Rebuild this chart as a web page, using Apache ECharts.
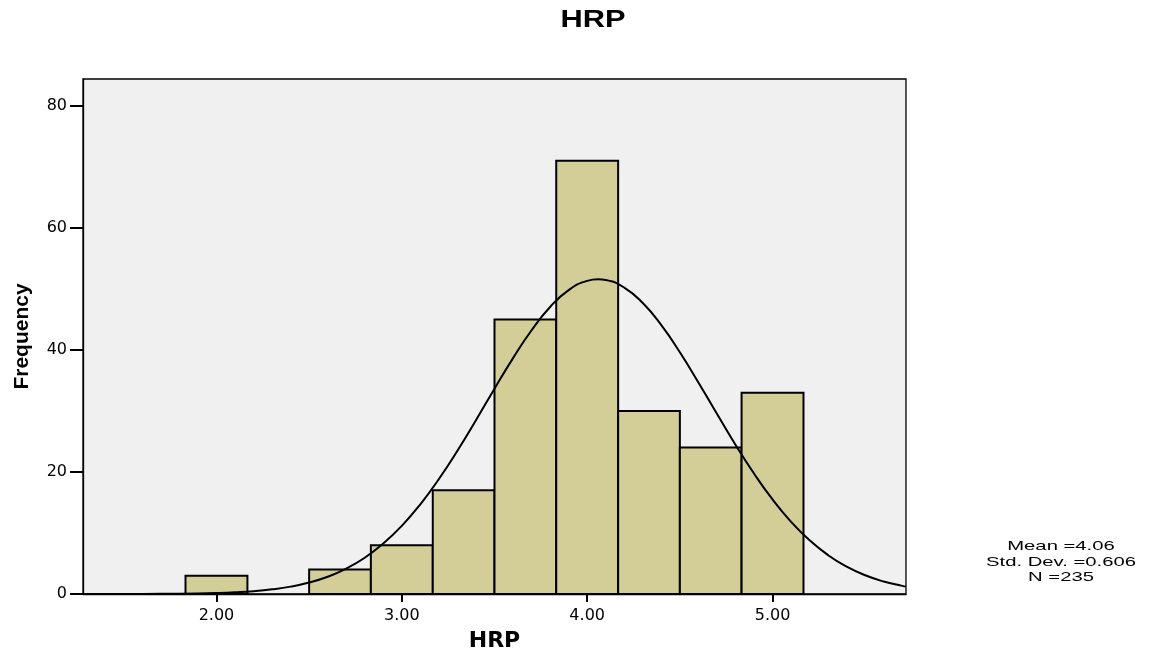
<!DOCTYPE html>
<html><head><meta charset="utf-8">
<script src="https://cdn.jsdelivr.net/npm/echarts@6/dist/echarts.min.js"></script>
<style>html,body{margin:0;padding:0;background:#fff}#c{width:1151px;height:656px}</style>
</head><body><div id="c"></div>
<script>
const title = 'HRP';
const xName = 'HRP';
const yName = 'Frequency';
const binLow  = [1.833, 2.167, 2.500, 2.833, 3.167, 3.500, 3.833, 4.167, 4.500, 4.833];
const binHigh = [2.167, 2.500, 2.833, 3.167, 3.500, 3.833, 4.167, 4.500, 4.833, 5.167];
const counts  = [3, 0, 4, 8, 17, 45, 71, 30, 24, 33];
const curveX = [1.28,1.5,1.7,1.9,2.0,2.1,2.2,2.3,2.4,2.5,2.6,2.7,2.8,2.9,3.0,3.1,3.2,3.3,3.4,3.5,3.6,3.7,3.8,3.9,4.0,4.06,4.1,4.2,4.3,4.4,4.5,4.6,4.7,4.8,4.9,5.0,5.1,5.2,5.3,5.4,5.5,5.6,5.7,5.72];
const curveY = [0.001,0.007,0.026,0.09,0.16,0.28,0.46,0.76,1.21,1.88,2.83,4.16,5.94,8.26,11.17,14.70,18.84,23.49,28.49,33.65,38.66,43.23,47.04,49.80,51.32,51.57,51.46,50.21,47.68,44.06,39.62,34.67,29.53,24.47,19.74,15.49,11.83,8.79,6.36,4.48,3.07,2.04,1.33,1.21];
const xTicks = [2, 3, 4, 5];
const yTicks = [0, 20, 40, 60, 80];
const statsLines = ['Mean =4.06', 'Std. Dev. =0.606', 'N =235'];

const font = '"Liberation Sans", Arial, sans-serif';
const wideFont = '"DejaVu Sans", sans-serif';
const chart = echarts.init(document.getElementById('c'), null, {renderer: 'canvas'});
const barData = binLow.map((lo, i) => [lo, binHigh[i], counts[i]]).filter(d => d[2] > 0);
const curveData = curveX.map((x, i) => [x, curveY[i]]);

chart.setOption({
  animation: false,
  backgroundColor: '#fff',
  grid: {left: 83, right: 245, top: 79, bottom: 62, show: true, containLabel: false,
    outerBoundsMode: 'none',
    backgroundColor: '#f0f0f0', borderColor: '#000', borderWidth: 1.3},
  xAxis: {type: 'value', min: 1.28, max: 5.72,
    name: xName, nameLocation: 'middle', nameGap: 36,
    nameTextStyle: {fontFamily: wideFont, fontWeight: 'bold', fontSize: 22, color: '#000'},
    axisLine: {show: true, onZero: false, lineStyle: {color: '#000', width: 1.3}},
    axisTick: {show: true, customValues: xTicks, length: 8, lineStyle: {color: '#000', width: 2}},
    axisLabel: {customValues: xTicks, formatter: v => v.toFixed(2), margin: 14,
      fontFamily: wideFont, fontSize: 16, color: '#000'},
    splitLine: {show: false}},
  yAxis: {type: 'value', min: 0, max: 84.4,
    name: yName, nameLocation: 'middle', nameGap: 50, nameRotate: 90,
    nameTextStyle: {fontFamily: font, fontWeight: 'bold', fontSize: 21, color: '#000'},
    axisLine: {show: true, lineStyle: {color: '#000', width: 1.3}},
    axisTick: {show: true, customValues: yTicks, length: 13, lineStyle: {color: '#000', width: 2}},
    axisLabel: {customValues: yTicks, margin: 16, fontFamily: wideFont, fontSize: 16, color: '#000'},
    splitLine: {show: false}},
  graphic: [
    {type: 'text', x: 593, y: 21, scaleX: 1.34,
      style: {text: title, fontFamily: font, fontWeight: 'bold', fontSize: 23,
        fill: '#000', align: 'center', verticalAlign: 'middle'}},
    {type: 'text', x: 1061, y: 539, scaleX: 1.5,
      style: {text: statsLines.join('\n'), fontFamily: font, fontSize: 13.5, lineHeight: 15.5,
        fill: '#000', align: 'center', verticalAlign: 'top'}}
  ],
  series: [
    {type: 'custom', data: barData, z: 2,
      renderItem: function (params, api) {
        const p0 = api.coord([api.value(0), 0]);
        const p1 = api.coord([api.value(1), api.value(2)]);
        return {type: 'rect',
          shape: {x: p0[0], y: p1[1], width: p1[0] - p0[0], height: p0[1] - p1[1]},
          style: {fill: '#d3ce98', stroke: '#000', lineWidth: 2}};
      },
      encode: {x: [0, 1], y: 2}},
    {type: 'line', data: curveData, smooth: true, showSymbol: false, z: 3,
      lineStyle: {color: '#000', width: 2}}
  ]
});
</script></body></html>
